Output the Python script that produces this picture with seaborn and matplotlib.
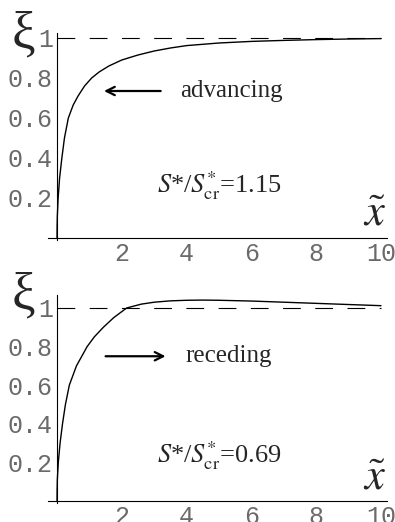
import matplotlib
matplotlib.use("Agg")
import matplotlib.pyplot as plt
import seaborn as sns
import pandas as pd

# advancing case (S*/S*cr = 1.15)
x_adv = [0.0, 0.003, 0.01, 0.035, 0.08, 0.15, 0.23, 0.35, 0.5, 0.65, 0.85, 1.07, 1.3,
         1.6, 2.0, 2.5, 3.0, 3.5, 4.0, 5.0, 6.0, 7.0, 8.0, 9.0, 10.0]
xi_adv = [0.0, 0.06, 0.11, 0.2, 0.3, 0.4, 0.5, 0.6, 0.665, 0.71, 0.76, 0.8, 0.83,
          0.86, 0.89, 0.915, 0.935, 0.95, 0.962, 0.975, 0.983, 0.988, 0.992, 0.995, 0.997]

# receding case (S*/S*cr = 0.69)
x_rec = [0.0, 0.003, 0.01, 0.04, 0.095, 0.17, 0.26, 0.38, 0.6, 0.93, 1.15, 1.43, 1.75,
         2.15, 2.6, 3.0, 3.5, 4.0, 4.5, 5.0, 6.0, 7.0, 8.0, 9.0, 10.0]
xi_rec = [0.0, 0.06, 0.11, 0.2, 0.3, 0.4, 0.5, 0.6, 0.7, 0.8, 0.85, 0.9, 0.95,
          1.0, 1.02, 1.03, 1.037, 1.04, 1.041, 1.04, 1.036, 1.03, 1.024, 1.018, 1.012]

asymptote = 1.0
x_span = (0, 10)
x_ticks = [2, 4, 6, 8, 10]
y_ticks = [0.2, 0.4, 0.6, 0.8, 1]
y_tick_labels = ["0.2", "0.4", "0.6", "0.8", "1"]

panels = [
    dict(x=x_adv, y=xi_adv, word="advancing", ratio="1.15", direction="left",
         ylim=(-0.1, 1.1), pos=[0.1197, 0.50575, 0.8777, 0.45977], ytop=1.025,
         arrow_y=0.735, ratio_y=0.225),
    dict(x=x_rec, y=xi_rec, word="receding", ratio="0.69", direction="right",
         ylim=(-0.1, 1.15), pos=[0.1197, 0.00326, 0.8777, 0.46217], ytop=1.067,
         arrow_y=0.75, ratio_y=0.2),
]

sns.set_style("white")
plt.rcParams["font.family"] = ["Liberation Serif", "DejaVu Serif"]
plt.rcParams["mathtext.fontset"] = "stix"

fig = plt.figure(figsize=(3.95, 5.22), dpi=100)

for p in panels:
    ax = fig.add_axes(p["pos"])
    df = pd.DataFrame({"x": p["x"], "xi": p["y"]})
    sns.lineplot(data=df, x="x", y="xi", ax=ax, color="black", lw=1.0,
                 estimator=None, sort=False)
    ax.hlines(asymptote, *x_span, colors="black", lw=0.8, linestyles=(0, (16, 13)))

    ax.set_xlim(-0.3, 10.4)
    ax.set_ylim(*p["ylim"])
    ax.set_xlabel("")
    ax.set_ylabel("")

    for s in ["top", "right"]:
        ax.spines[s].set_visible(False)
    ax.spines["left"].set_position(("data", 0))
    ax.spines["bottom"].set_position(("data", 0))
    ax.spines["left"].set_bounds(-0.01, p["ytop"])
    ax.spines["bottom"].set_bounds(-0.28, 10.2)
    for s in ["left", "bottom"]:
        ax.spines[s].set_linewidth(0.8)
        ax.spines[s].set_color("black")

    ax.set_xticks(x_ticks)
    ax.set_xticks([v / 2 for v in range(1, 21) if v % 4 != 0], minor=True)
    ax.set_yticks(y_ticks)
    ax.set_yticklabels(y_tick_labels)
    ax.set_yticks([v / 20 for v in range(1, 21) if v % 4 != 0], minor=True)
    ax.tick_params(which="major", direction="in", length=3, width=0.7,
                   labelsize=18, labelcolor="#6a6a6a", pad=3)
    ax.tick_params(which="minor", direction="in", length=2, width=0.6)
    for lab in ax.get_xticklabels() + ax.get_yticklabels():
        lab.set_family("Liberation Mono")

    # direction arrow and label
    if p["direction"] == "left":
        ax.annotate("", xy=(1.45, p["arrow_y"]), xytext=(3.2, p["arrow_y"]),
                    arrowprops=dict(arrowstyle="->,head_length=0.6,head_width=0.3",
                                    lw=1.6, color="black", shrinkA=0, shrinkB=0))
        ax.text(3.8, p["arrow_y"], p["word"], fontsize=18, va="center", ha="left")
    else:
        ax.annotate("", xy=(3.35, p["arrow_y"]), xytext=(1.5, p["arrow_y"]),
                    arrowprops=dict(arrowstyle="->,head_length=0.6,head_width=0.3",
                                    lw=1.6, color="black", shrinkA=0, shrinkB=0))
        ax.text(3.95, p["arrow_y"], p["word"], fontsize=18, va="center", ha="left")

    ax.text(3.1, p["ratio_y"], r"$S$*/$S^{*}_{\mathrm{cr}}$=" + p["ratio"],
            fontsize=19, va="baseline", ha="left")

    ax.text(9.8, 0.115, r"$\tilde{x}$", fontsize=32, va="center", ha="center",
            clip_on=False)

    # y-axis symbol
    top_px = 522 * (1 - (p["pos"][1] + p["pos"][3]))
    fig.text(23 / 395, 1 - (top_px + 16) / 522, "ξ", fontsize=38,
             ha="center", va="center")

fig.savefig("out.png", dpi=100)
